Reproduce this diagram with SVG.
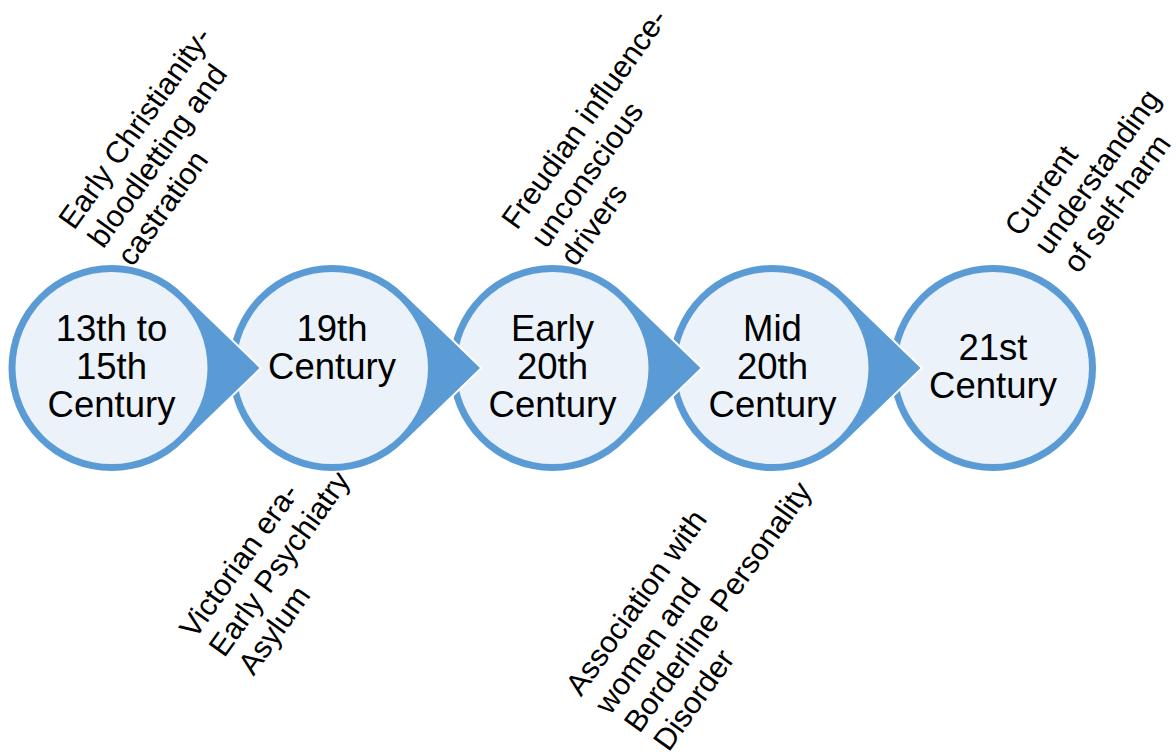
<svg xmlns="http://www.w3.org/2000/svg" width="1176" height="756" viewBox="0 0 1176 756">
<style>
.blob{fill:#5B9BD5;stroke:#FFFFFF;stroke-width:4;paint-order:stroke;stroke-linejoin:miter}
.core{fill:#EBF2FA}
.ntxt{font-family:"Liberation Sans",Arial,sans-serif;font-size:36.5px;text-anchor:middle;fill:#000}
.ltxt{font-family:"Liberation Sans",Arial,sans-serif;font-size:30.5px;fill:#000}
</style>
<rect width="1176" height="756" fill="#FFFFFF"/>
<g id="labels">
<g id="label-1" transform="translate(74,231) rotate(-54.5)"><text class="ltxt"><tspan x="0" y="0">Early Christianity-</tspan><tspan x="2" dy="34.5">bloodletting and</tspan><tspan x="4" dy="34.5">castration</tspan></text></g>
<g id="label-2" transform="translate(195,640) rotate(-54.5)"><text class="ltxt"><tspan x="0" y="0">Victorian era-</tspan><tspan x="2" dy="34.5">Early Psychiatry</tspan><tspan x="4" dy="34.5">Asylum</tspan></text></g>
<g id="label-3" transform="translate(517,231) rotate(-54.5)"><text class="ltxt"><tspan x="0" y="0">Freudian influence-</tspan><tspan x="2" dy="34.5">unconscious</tspan><tspan x="4" dy="34.5">drivers</tspan></text></g>
<g id="label-4" transform="translate(581,697.5) rotate(-54.5)"><text class="ltxt"><tspan x="0" y="0">Association with</tspan><tspan x="2" dy="34.5">women and</tspan><tspan x="4" dy="34.5">Borderline Personality</tspan><tspan x="6" dy="34.5">Disorder</tspan></text></g>
<g id="label-5" transform="translate(1020,238) rotate(-54.5)"><text class="ltxt"><tspan x="0" y="0">Current</tspan><tspan x="2" dy="34.5">understanding</tspan><tspan x="4" dy="34.5">of self-harm</tspan></text></g>
</g>
<g id="node-5">
<circle class="blob" cx="993" cy="368" r="103"/>
<circle class="core" cx="993" cy="368" r="96"/>
<text class="ntxt"><tspan x="993" y="360">21st</tspan><tspan x="993" y="398">Century</tspan></text>
</g>
<g id="node-4">
<path class="blob" d="M920.5 368 L845.33 295.17 A103 103 0 1 0 845.33 440.83 Z"/>
<circle class="core" cx="772.5" cy="368" r="96"/>
<text class="ntxt"><tspan x="772.5" y="341">Mid</tspan><tspan x="772.5" y="379">20th</tspan><tspan x="772.5" y="417">Century</tspan></text>
</g>
<g id="node-3">
<path class="blob" d="M700.5 368 L625.33 295.17 A103 103 0 1 0 625.33 440.83 Z"/>
<circle class="core" cx="552.5" cy="368" r="96"/>
<text class="ntxt"><tspan x="552.5" y="341">Early</tspan><tspan x="552.5" y="379">20th</tspan><tspan x="552.5" y="417">Century</tspan></text>
</g>
<g id="node-2">
<path class="blob" d="M480 368 L404.83 295.17 A103 103 0 1 0 404.83 440.83 Z"/>
<circle class="core" cx="332" cy="368" r="96"/>
<text class="ntxt"><tspan x="332" y="341">19th</tspan><tspan x="332" y="379">Century</tspan></text>
</g>
<g id="node-1">
<path class="blob" d="M259.5 368 L184.33 295.17 A103 103 0 1 0 184.33 440.83 Z"/>
<circle class="core" cx="111.5" cy="368" r="96"/>
<text class="ntxt"><tspan x="111.5" y="341">13th to</tspan><tspan x="111.5" y="379">15th</tspan><tspan x="111.5" y="417">Century</tspan></text>
</g>
</svg>
